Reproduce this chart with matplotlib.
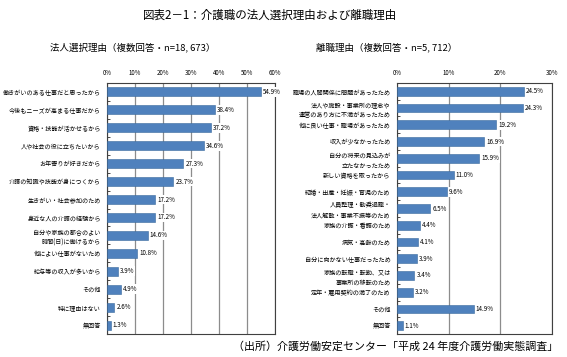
import matplotlib
matplotlib.use("Agg")
import matplotlib.pyplot as plt
import numpy as np

plt.rcParams['font.family'] = ['Noto Sans CJK JP', 'DejaVu Sans']

# left chart: reasons for choosing the employer
left_labels = [
    "働きがいのある仕事だと思ったから",
    "今後もニーズが高まる仕事だから",
    "資格・技能が活かせるから",
    "人や社会の役に立ちたいから",
    "お年寄りが好きだから",
    "介護の知識や技能が身につくから",
    "生きがい・社会参加のため",
    "身近な人の介護の経験から",
    "自分や家族の都合のよい\n時間(日)に働けるから",
    "他によい仕事がないため",
    "給与等の収入が多いから",
    "その他",
    "特に理由はない",
    "無回答",
]
left_values = [54.9, 38.4, 37.2, 34.6, 27.3, 23.7, 17.2, 17.2, 14.6, 10.8, 3.9, 4.9, 2.6, 1.3]
left_ticks = [0, 10, 20, 30, 40, 50, 60]

# right chart: reasons for leaving
right_labels = [
    "職場の人間関係に問題があったため",
    "法人や施設・事業所の理念や\n運営のあり方に不満があったため",
    "他に良い仕事・職場があったため",
    "収入が少なかったため",
    "自分の将来の見込みが\n立たなかったため",
    "新しい資格を取ったから",
    "結婚・出産・妊娠・育児のため",
    "人員整理・勧奨退職・\n法人解散・事業不振等のため",
    "家族の介護・看護のため",
    "病気・高齢のため",
    "自分に向かない仕事だったため",
    "家族の転職・転勤、又は\n事業所の移転のため",
    "定年・雇用契約の満了のため",
    "その他",
    "無回答",
]
right_values = [24.5, 24.3, 19.2, 16.9, 15.9, 11.0, 9.6, 6.5, 4.4, 4.1, 3.9, 3.4, 3.2, 14.9, 1.1]
right_ticks = [0, 10, 20, 30]

bar_color = "#4F81BD"

fig = plt.figure(figsize=(5.67, 3.57), dpi=100)


def draw(ax, labels, values, ticks, bar_h, lab_fs):
    n = len(labels)
    y = np.arange(n)
    ax.barh(y, values, height=bar_h, color=bar_color, edgecolor="#3A6A9E", linewidth=0.4, zorder=3)
    ax.set_xlim(ticks[0], ticks[-1])
    ax.set_ylim(n - 0.5, -0.5)
    ax.set_xticks(ticks)
    ax.set_xticklabels([f"{t}%" for t in ticks], fontsize=4.4)
    ax.xaxis.tick_top()
    ax.tick_params(axis="x", length=0, pad=4)
    ax.set_yticks(y)
    ax.set_yticklabels(labels, fontsize=lab_fs, linespacing=1.35)
    ax.tick_params(axis="y", length=0, pad=4.5)
    ax.set_yticks(np.arange(n + 1) - 0.5, minor=True)
    ax.tick_params(axis="y", which="minor", length=2, width=0.5, direction="in")
    ax.grid(axis="x", color="#8C8C8C", linewidth=0.9, zorder=0)
    for s in ax.spines.values():
        s.set_color("#404040")
        s.set_linewidth(0.8)
    for yi, v in zip(y, values):
        ax.text(v + (ticks[-1] * 0.012), yi, f"{v:.1f}%", va="center", ha="left", fontsize=4.5,
                bbox=dict(facecolor="white", edgecolor="none", pad=0.6), zorder=4)


ax1 = fig.add_axes([0.1887, 0.0644, 0.2963, 0.7031])
draw(ax1, left_labels, left_values, left_ticks, 0.5, 4.4)

ax2 = fig.add_axes([0.700, 0.0644, 0.2735, 0.7031])
draw(ax2, right_labels, right_values, right_ticks, 0.52, 4.45)

fig.text(0.477, 0.958, "図表2－1：介護職の法人選択理由および離職理由", ha="center", va="center", fontsize=8.3)
fig.text(0.088, 0.868, "法人選択理由（複数回答・n=18, 673）", ha="left", va="center", fontsize=6.8)
fig.text(0.557, 0.868, "離職理由（複数回答・n=5, 712）", ha="left", va="center", fontsize=6.8)
fig.text(0.985, 0.030, "（出所）介護労働安定センター「平成 24 年度介護労働実態調査」", ha="right", va="center", fontsize=7.9)

fig.savefig("out.png", dpi=100)
